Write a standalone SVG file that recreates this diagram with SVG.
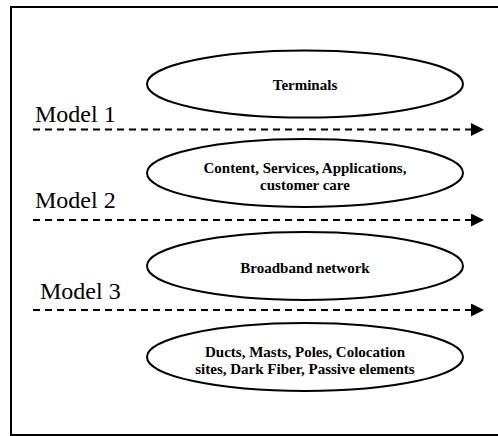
<svg xmlns="http://www.w3.org/2000/svg" width="498" height="436" viewBox="0 0 498 436">
<style>
.node{fill:#fff;stroke:#000;stroke-width:2}
.lbl{font-family:"Liberation Serif","Times New Roman",serif;font-weight:bold;font-size:15px;text-anchor:middle;fill:#000}
.model{font-family:"Liberation Serif","Times New Roman",serif;font-size:24px;fill:#000}
.conn{stroke:#000;stroke-width:2;stroke-dasharray:7 5;fill:none}
</style>
<defs>
<marker id="ah" markerWidth="14" markerHeight="14" refX="0" refY="6.5" orient="auto" markerUnits="userSpaceOnUse">
<path d="M0,0 L13,6.5 L0,13 Z" fill="#000"/>
</marker>
</defs>
<rect x="0" y="0" width="498" height="436" fill="#fff"/>
<rect x="11" y="7" width="500" height="428" fill="none" stroke="#000" stroke-width="2"/>
<g id="n1"><ellipse class="node" cx="305" cy="84" rx="158" ry="33.5"/><text class="lbl" x="305" y="90">Terminals</text></g>
<g id="n2"><ellipse class="node" cx="305" cy="173" rx="158" ry="34"/><text class="lbl" x="305" y="173">Content, Services, Applications,</text><text class="lbl" x="305" y="190">customer care</text></g>
<g id="n3"><ellipse class="node" cx="305" cy="266" rx="158" ry="34"/><text class="lbl" x="305" y="273">Broadband network</text></g>
<g id="n4"><ellipse class="node" cx="305" cy="357" rx="158" ry="34"/><text class="lbl" x="305" y="357">Ducts, Masts, Poles, Colocation</text><text class="lbl" x="305" y="374">sites, Dark Fiber, Passive elements</text></g>
<g id="labels">
<text class="model" x="35" y="122">Model 1</text>
<text class="model" x="35" y="208">Model 2</text>
<text class="model" x="40" y="299">Model 3</text>
</g>
<g id="connectors">
<line class="conn" x1="33" y1="129.5" x2="471" y2="129.5" marker-end="url(#ah)"/>
<line class="conn" x1="33" y1="220" x2="471" y2="220" marker-end="url(#ah)"/>
<line class="conn" x1="33" y1="310" x2="471" y2="310" marker-end="url(#ah)"/>
</g>
</svg>
